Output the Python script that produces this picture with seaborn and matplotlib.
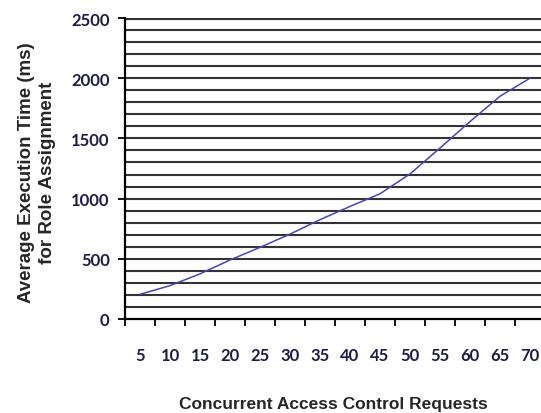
import pandas as pd
import seaborn as sns
import matplotlib.pyplot as plt

# data
requests = [5, 10, 15, 20, 25, 30, 35, 40, 45, 50, 55, 60, 65, 70]
exec_time = [205, 277, 375, 490, 595, 705, 825, 935, 1040, 1205, 1420, 1640, 1850, 2000]
y_ticks = [0, 500, 1000, 1500, 2000, 2500]

df = pd.DataFrame({'requests': requests, 'time': exec_time})

sns.set_theme(style="white")
plt.rcParams['font.family'] = ['Liberation Sans', 'DejaVu Sans']

fig = plt.figure(figsize=(5.41, 4.14), dpi=100)
ax = fig.add_axes([125 / 541, 1 - 320 / 414, 420 / 541, 301 / 414])

# horizontal grid every 100 ms
for v in range(100, 2600, 100):
    ax.axhline(v, color='#333333', lw=1.5 if v < 2500 else 2.3, zorder=1)

sns.lineplot(data=df, x='requests', y='time', color='#4646b4', lw=1.1, ax=ax, zorder=3)

ax.set_xlim(2.5, 72.5)
ax.set_ylim(0, 2500)

# labels at category centres, tick marks between categories
ax.set_xticks(requests)
ax.set_xticks([r - 2.5 for r in requests] + [72.5], minor=True)
ax.set_yticks(y_ticks)
tick_font = dict(family='Lato', weight='bold', size=12)
ax.set_xticklabels([str(r) for r in requests], color='#1c1c48', **tick_font)
ax.set_yticklabels([str(t) for t in y_ticks], color='#1c1c48', **tick_font)
ax.tick_params(axis='x', which='major', length=0, pad=20)
ax.tick_params(axis='x', which='minor', bottom=True, length=5, width=1.3, color='black')
ax.tick_params(axis='y', which='major', left=True, length=5, width=1.3, color='black', pad=6)

for side in ['top', 'right']:
    ax.spines[side].set_visible(False)
for side in ['left', 'bottom']:
    ax.spines[side].set_color('black')
    ax.spines[side].set_linewidth(1.6)

ax.set_xlabel('Concurrent Access Control Requests', fontsize=12.5, fontweight='bold')
ax.xaxis.set_label_coords(0.495, -0.255)
ax.set_ylabel('Average Execution Time (ms)\nfor Role Assignment', fontsize=13.5,
              fontweight='bold', linespacing=1.25)
ax.yaxis.set_label_coords(-0.165, 0.49)

fig.savefig('out.png', dpi=100)
